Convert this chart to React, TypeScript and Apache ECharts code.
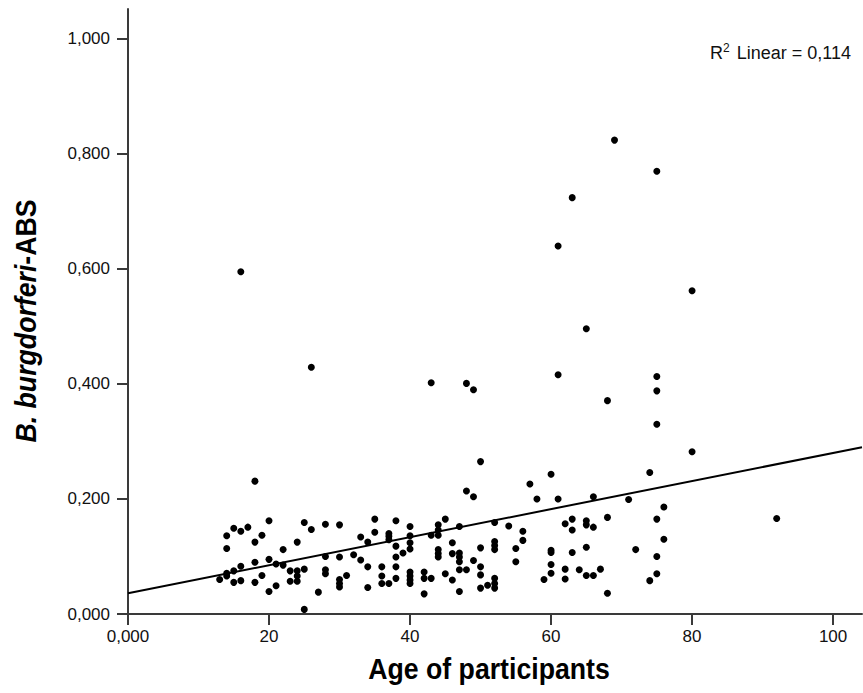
import React, { useEffect, useRef } from "react";
import * as echarts from "echarts";

// Age of participants (x) and B. burgdorferi-ABS (y)
const ageValues: number[] = [
  18, 14, 14, 15, 16, 17, 20, 19, 18, 25, 26, 28, 24, 22, 20, 18, 16, 15, 14, 14,
  13, 15, 16, 18, 19, 20, 21, 21, 22, 23, 23, 24, 24, 24, 25, 25, 27,
  30, 28, 30, 28, 28, 30, 30, 30, 31, 32, 33, 33, 34, 34, 34, 35, 35, 36, 36, 36,
  37, 37, 37, 37, 38, 38, 38, 38, 38, 39, 40, 40, 40, 40, 40, 40, 40, 40,
  42, 42, 42, 43, 43, 44, 44, 44, 44, 44, 44, 45, 45, 46, 46, 46,
  47, 47, 47, 47, 47, 47, 48, 48, 49, 49, 50, 50, 50, 50, 50, 51,
  52, 52, 52, 52, 52, 52, 52, 54, 55, 55,
  57, 60, 58, 61, 66, 71, 76, 75, 76, 75, 75, 74, 72, 68, 68, 67, 66, 65, 65, 65,
  65, 66, 64, 63, 63, 63, 62, 62, 62, 60, 60, 60, 60, 59, 56, 56, 74, 80, 75,
  92, 69, 75, 63, 61, 80, 65, 61, 75, 75, 68, 16, 26, 43, 48, 49,
];
const absValues: number[] = [
  0.231, 0.136, 0.114, 0.149, 0.144, 0.151, 0.162, 0.137, 0.125, 0.159, 0.147, 0.156, 0.125, 0.112, 0.095, 0.09, 0.083, 0.075, 0.071, 0.066,
  0.06, 0.055, 0.058, 0.055, 0.067, 0.039, 0.049, 0.087, 0.085, 0.075, 0.057, 0.075, 0.066, 0.057, 0.078, 0.008, 0.038,
  0.155, 0.1, 0.099, 0.077, 0.07, 0.06, 0.053, 0.047, 0.067, 0.103, 0.134, 0.094, 0.125, 0.082, 0.046, 0.165, 0.142, 0.082, 0.066, 0.053,
  0.14, 0.135, 0.129, 0.053, 0.162, 0.118, 0.099, 0.082, 0.062, 0.106, 0.152, 0.136, 0.124, 0.113, 0.073, 0.066, 0.059, 0.053,
  0.073, 0.062, 0.035, 0.137, 0.062, 0.155, 0.146, 0.137, 0.112, 0.105, 0.099, 0.165, 0.07, 0.124, 0.105, 0.059,
  0.152, 0.106, 0.099, 0.091, 0.077, 0.039, 0.077, 0.214, 0.204, 0.093, 0.265, 0.115, 0.082, 0.068, 0.045, 0.05,
  0.159, 0.126, 0.119, 0.112, 0.062, 0.053, 0.045, 0.153, 0.114, 0.091,
  0.226, 0.243, 0.2, 0.2, 0.204, 0.199, 0.186, 0.165, 0.13, 0.1, 0.07, 0.058, 0.112, 0.168, 0.036, 0.078, 0.151, 0.162, 0.155, 0.116,
  0.067, 0.067, 0.077, 0.165, 0.146, 0.107, 0.157, 0.078, 0.061, 0.111, 0.107, 0.086, 0.071, 0.06, 0.144, 0.128, 0.246, 0.282, 0.33,
  0.166, 0.824, 0.77, 0.724, 0.64, 0.562, 0.496, 0.416, 0.413, 0.388, 0.371, 0.595, 0.429, 0.402, 0.401, 0.39,
];

// Fit line end points (x, y)
const fitX: number[] = [0, 104.1];
const fitY: number[] = [0.036, 0.29];

const xTicks: number[] = [0, 20, 40, 60, 80, 100];
const yTicks: number[] = [0, 0.2, 0.4, 0.6, 0.8, 1.0];
const xTitle = "Age of participants";
const yTitleItalic = "B. burgdorferi";
const yTitleRest = "-ABS";
const r2Label = "0,114";

export default function App() {
  const ref = useRef<HTMLDivElement>(null);
  useEffect(() => {
    if (!ref.current) return;
    const chart = echarts.init(ref.current, null, { renderer: "svg" });
    const points = ageValues.map((a, i) => [a, absValues[i]]);
    const line = fitX.map((x, i) => [x, fitY[i]]);
    const axisColor = "#3a3a3a";
    const labelFont = "'Liberation Sans', Arial, sans-serif";
    const titleFont = "'Liberation Sans Narrow', 'Arial Narrow', 'Liberation Sans', Arial, sans-serif";
    chart.setOption({
      animation: false,
      backgroundColor: "#fff",
      grid: { left: 128, right: 1, top: 9, bottom: 79, containLabel: false },
      xAxis: {
        type: "value",
        min: 0,
        max: 104.1,
        interval: 20,
        splitLine: { show: false },
        axisLine: { show: true, lineStyle: { color: axisColor, width: 2 } },
        axisTick: { show: true, length: 11, lineStyle: { color: axisColor, width: 2 } },
        axisLabel: {
          showMaxLabel: false,
          margin: 14,
          color: "#111",
          fontSize: 17,
          fontFamily: labelFont,
          formatter: (v: number) =>
            xTicks.indexOf(v) < 0 ? "" : v === 0 ? "0,000" : String(v),
        },
      },
      yAxis: {
        type: "value",
        min: 0,
        max: 1.052,
        interval: 0.2,
        splitLine: { show: false },
        axisLine: { show: true, lineStyle: { color: axisColor, width: 2 } },
        axisTick: { show: true, length: 11, lineStyle: { color: axisColor, width: 2 } },
        axisLabel: {
          showMaxLabel: false,
          margin: 18,
          color: "#111",
          fontSize: 17,
          fontFamily: labelFont,
          formatter: (v: number) =>
            yTicks.some((t) => Math.abs(t - v) < 1e-9) ? v.toFixed(3).replace(".", ",") : "",
        },
      },
      graphic: [
        {
          type: "text",
          x: 489,
          y: 669,
          scaleX: 0.92,
          style: {
            text: xTitle,
            fontSize: 29,
            fontWeight: "bold",
            fontFamily: titleFont,
            fill: "#000",
            align: "center",
            verticalAlign: "middle",
          },
        },
        {
          type: "text",
          x: 26,
          y: 321,
          rotation: Math.PI / 2,
          scaleX: 0.92,
          style: {
            text: "{i|" + yTitleItalic + "}{n|" + yTitleRest + "}",
            align: "center",
            verticalAlign: "middle",
            rich: {
              i: { fontSize: 29, fontWeight: "bold", fontStyle: "italic", fontFamily: titleFont, fill: "#000" },
              n: { fontSize: 29, fontWeight: "bold", fontFamily: titleFont, fill: "#000" },
            },
          },
        },
        {
          type: "text",
          right: 12,
          top: 42,
          style: {
            text: "{a|R}{s|2}{a| Linear = " + r2Label + "}",
            rich: {
              a: { fontSize: 18, fontFamily: labelFont, fill: "#111" },
              s: { fontSize: 12, fontFamily: labelFont, fill: "#111", padding: [0, 2, 10, 0] },
            },
          },
        },
      ],
      series: [
        {
          type: "line",
          data: line,
          showSymbol: false,
          symbol: "none",
          lineStyle: { color: "#000", width: 2 },
          silent: true,
          z: 2,
        },
        {
          type: "scatter",
          data: points,
          symbol: "circle",
          symbolSize: 7,
          itemStyle: { color: "#000", opacity: 1 },
          z: 3,
        },
      ],
    });
    return () => chart.dispose();
  }, []);
  return (
    <div
      ref={ref}
      style={{ position: "fixed", left: 0, top: 0, width: 863, height: 693, background: "#fff" }}
    />
  );
}
